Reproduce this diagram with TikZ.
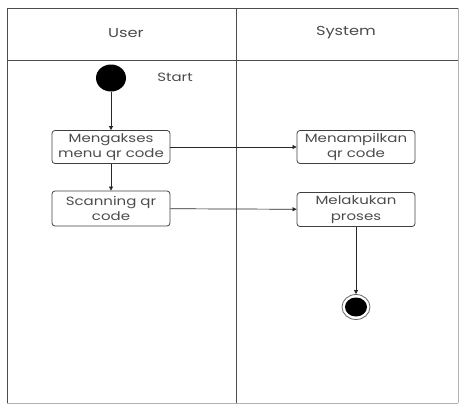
\documentclass[tikz,border=0pt]{standalone}
\usepackage{fontspec}
\setmainfont{Poppins}[FakeStretch=1.25]
\usetikzlibrary{arrows.meta,shapes.geometric}
\tikzset{
  act/.style={draw=black!75, line width=0.8pt, rounded corners=3pt, minimum width=118pt, minimum height=33pt, align=center, font=\fontsize{12}{15.5}\selectfont, text=black!70, inner sep=0pt},
  lane/.style={draw=black!70, line width=0.9pt},
  flow/.style={draw=black!85, line width=0.7pt, -{Triangle[length=4pt,width=4pt]}},
  hdr/.style={font=\fontsize{13}{15}\selectfont, text=black!70},
}
\begin{document}
\begin{tikzpicture}[x=1pt,y=-1pt]
\useasboundingbox (0,0) rectangle (459,405);
% swimlanes
\draw[lane] (7,403) -- (7,8) -- (458,8);
\draw[lane] (7,60) -- (458,60);
\draw[lane] (236,8) -- (236,403);
\draw[draw=black!30, line width=0.6pt] (7,403) -- (458,403);
\draw[draw=black!30, line width=0.6pt] (458,8) -- (458,403);
\node[hdr] (hu) at (126,33) {User};
\node[hdr] (hs) at (346,33) {System};
% nodes
\node[ellipse, fill=black, minimum width=30pt, minimum height=27pt, inner sep=0pt] (start) at (111,78) {};
\node[text=black!70, font=\fontsize{12}{14}\selectfont] (slabel) at (175,77) {Start};
\node[act] (a1) at (111,147) {Mengakses\\menu qr code};
\node[act, minimum height=35pt] (a2) at (111,208.5) {Scanning qr\\code};
\node[act] (b1) at (356,147) {Menampilkan\\qr code};
\node[act, minimum height=34pt] (b2) at (356,209.5) {Melakukan\\proses};
\node[ellipse, draw=black!60, line width=0.8pt, minimum width=28pt, minimum height=25pt, inner sep=0pt] (end) at (356,307) {};
\node[ellipse, fill=black, minimum width=22pt, minimum height=19pt, inner sep=0pt] (endin) at (356,307) {};
% flows
\draw[flow] (start) -- (a1);
\draw[flow] (a1) -- (a2);
\draw[flow] (a1) -- (b1);
\draw[flow] (a2) -- (b2);
\draw[flow] (b2) -- (end);
\end{tikzpicture}
\end{document}
